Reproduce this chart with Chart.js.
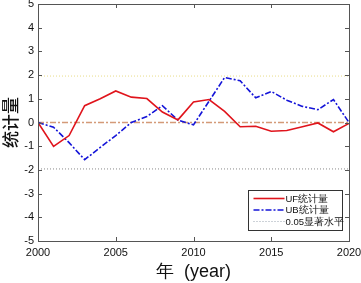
<!DOCTYPE html>
<html><head><meta charset="utf-8">
<script src="https://cdn.jsdelivr.net/npm/chart.js@4/dist/chart.umd.min.js"></script>
<style>html,body{margin:0;padding:0;background:#fff}#wrap{width:361px;height:283px}</style>
</head><body><div id="wrap"><canvas id="c" width="361" height="283"></canvas></div>
<script>
const years = [2000,2001,2002,2003,2004,2005,2006,2007,2008,2009,2010,2011,2012,2013,2014,2015,2016,2017,2018,2019,2020];
const uf = [0,-1.01,-0.55,0.71,1.0,1.33,1.07,1.01,0.44,0.11,0.87,0.97,0.47,-0.18,-0.16,-0.37,-0.34,-0.18,-0.02,-0.39,-0.04];
const ub = [0,-0.2,-0.85,-1.57,-1.05,-0.55,0.0,0.25,0.71,0.1,-0.1,0.9,1.9,1.76,1.04,1.31,0.94,0.68,0.54,0.97,0];
const sigLevel = 1.96;
const yTicks = [-5,-4,-3,-2,-1,0,1,2,3,4,5];
const xTicks = [2000,2005,2010,2015,2020];
const legendLabels = ['UF统计量','UB统计量','0.05显著水平'];

const pts = a => a.map((v,i)=>({x:years[i],y:v}));
const flat = v => [{x:years[0],y:v},{x:years[years.length-1],y:v}];

const FONT = "'Liberation Sans', Arial, sans-serif";

const frame = {
  id:'frame',
  afterDatasetsDraw(chart){
    const {ctx, chartArea:a, scales:{x,y}} = chart;
    ctx.save();
    ctx.strokeStyle='#555'; ctx.lineWidth=1;
    ctx.strokeRect(Math.round(a.left)+0.5, Math.round(a.top)+0.5, Math.round(a.right-a.left), Math.round(a.bottom-a.top));
    const L=4;
    ctx.beginPath();
    yTicks.forEach(v=>{const p=Math.round(y.getPixelForValue(v))+0.5;
      ctx.moveTo(a.left,p);ctx.lineTo(a.left+L,p);ctx.moveTo(a.right,p);ctx.lineTo(a.right-L,p);});
    xTicks.forEach(v=>{const p=Math.round(x.getPixelForValue(v))+0.5;
      ctx.moveTo(p,a.bottom);ctx.lineTo(p,a.bottom-L);ctx.moveTo(p,a.top);ctx.lineTo(p,a.top+L);});
    ctx.stroke();
    // legend
    const bx=248.5, by=190.5, bw=94, bh=40;
    ctx.fillStyle='#fff'; ctx.fillRect(bx,by,bw,bh);
    ctx.strokeStyle='#333'; ctx.strokeRect(bx,by,bw,bh);
    const ds=[chart.data.datasets[0],chart.data.datasets[1],chart.data.datasets[3]];
    ds.forEach((d,i)=>{
      const yy = by+8+i*11.5;
      ctx.beginPath(); ctx.strokeStyle=i==2?'#9aa4b0':d.borderColor; ctx.lineWidth=d.borderWidth;
      ctx.setLineDash(d.borderDash||[]);
      ctx.moveTo(bx+5,yy); ctx.lineTo(bx+36,yy); ctx.stroke();
      ctx.setLineDash([]);
      ctx.fillStyle='#111'; ctx.font="9.5px "+FONT; ctx.textBaseline='middle'; ctx.textAlign='left';
      ctx.fillText(legendLabels[i], bx+37, yy+0.5);
    });
    ctx.restore();
  }
};

new Chart(document.getElementById('c'),{
  type:'line',
  data:{datasets:[
    {label:legendLabels[0],data:pts(uf),borderColor:'#e0141c',borderWidth:1.6,pointRadius:0,tension:0,order:1},
    {label:legendLabels[1],data:pts(ub),borderColor:'#1414d8',borderWidth:1.6,borderDash:[6,2,2,2],pointRadius:0,tension:0,order:2},
    {label:'upper',data:flat(sigLevel),borderColor:'#e8dc88',borderWidth:1,borderDash:[1,2],pointRadius:0,order:3},
    {label:'lower',data:flat(-sigLevel),borderColor:'#8a8a8a',borderWidth:1,borderDash:[1,2],pointRadius:0,order:3},
    {label:'zero',data:flat(0),borderColor:'#d49a78',borderWidth:1.3,borderDash:[6,2,2,2],pointRadius:0,order:4}
  ]},
  options:{
    responsive:false, animation:false, devicePixelRatio:1,
    layout:{padding:{left:0,right:12,top:4,bottom:0}},
    plugins:{legend:{display:false},tooltip:{enabled:false}},
    scales:{
      x:{type:'linear',min:2000,max:2020,
        afterBuildTicks:s=>{s.ticks=xTicks.map(v=>({value:v}));},
        afterFit:s=>{s.height=42;s.paddingLeft=0;s.paddingRight=0;},
        grid:{display:false,drawTicks:false},border:{display:false},
        ticks:{color:'#111',font:{family:FONT,size:11},padding:5,maxRotation:0,callback:v=>String(v)},
        title:{display:true,text:'年  (year)',color:'#111',font:{family:FONT,size:18},padding:{top:1,bottom:0}}},
      y:{min:-5,max:5,
        afterBuildTicks:s=>{s.ticks=yTicks.map(v=>({value:v}));},
        afterFit:s=>{s.width=38;s.paddingTop=0;s.paddingBottom=0;},
        grid:{display:false,drawTicks:false},border:{display:false},
        ticks:{color:'#111',font:{family:FONT,size:11},padding:4},
        title:{display:true,text:'统计量',color:'#111',font:{family:"'Noto Sans CJK SC', sans-serif",size:17,weight:'500'},padding:{top:0,bottom:0}}}
    }
  },
  plugins:[frame]
});
</script></body></html>
